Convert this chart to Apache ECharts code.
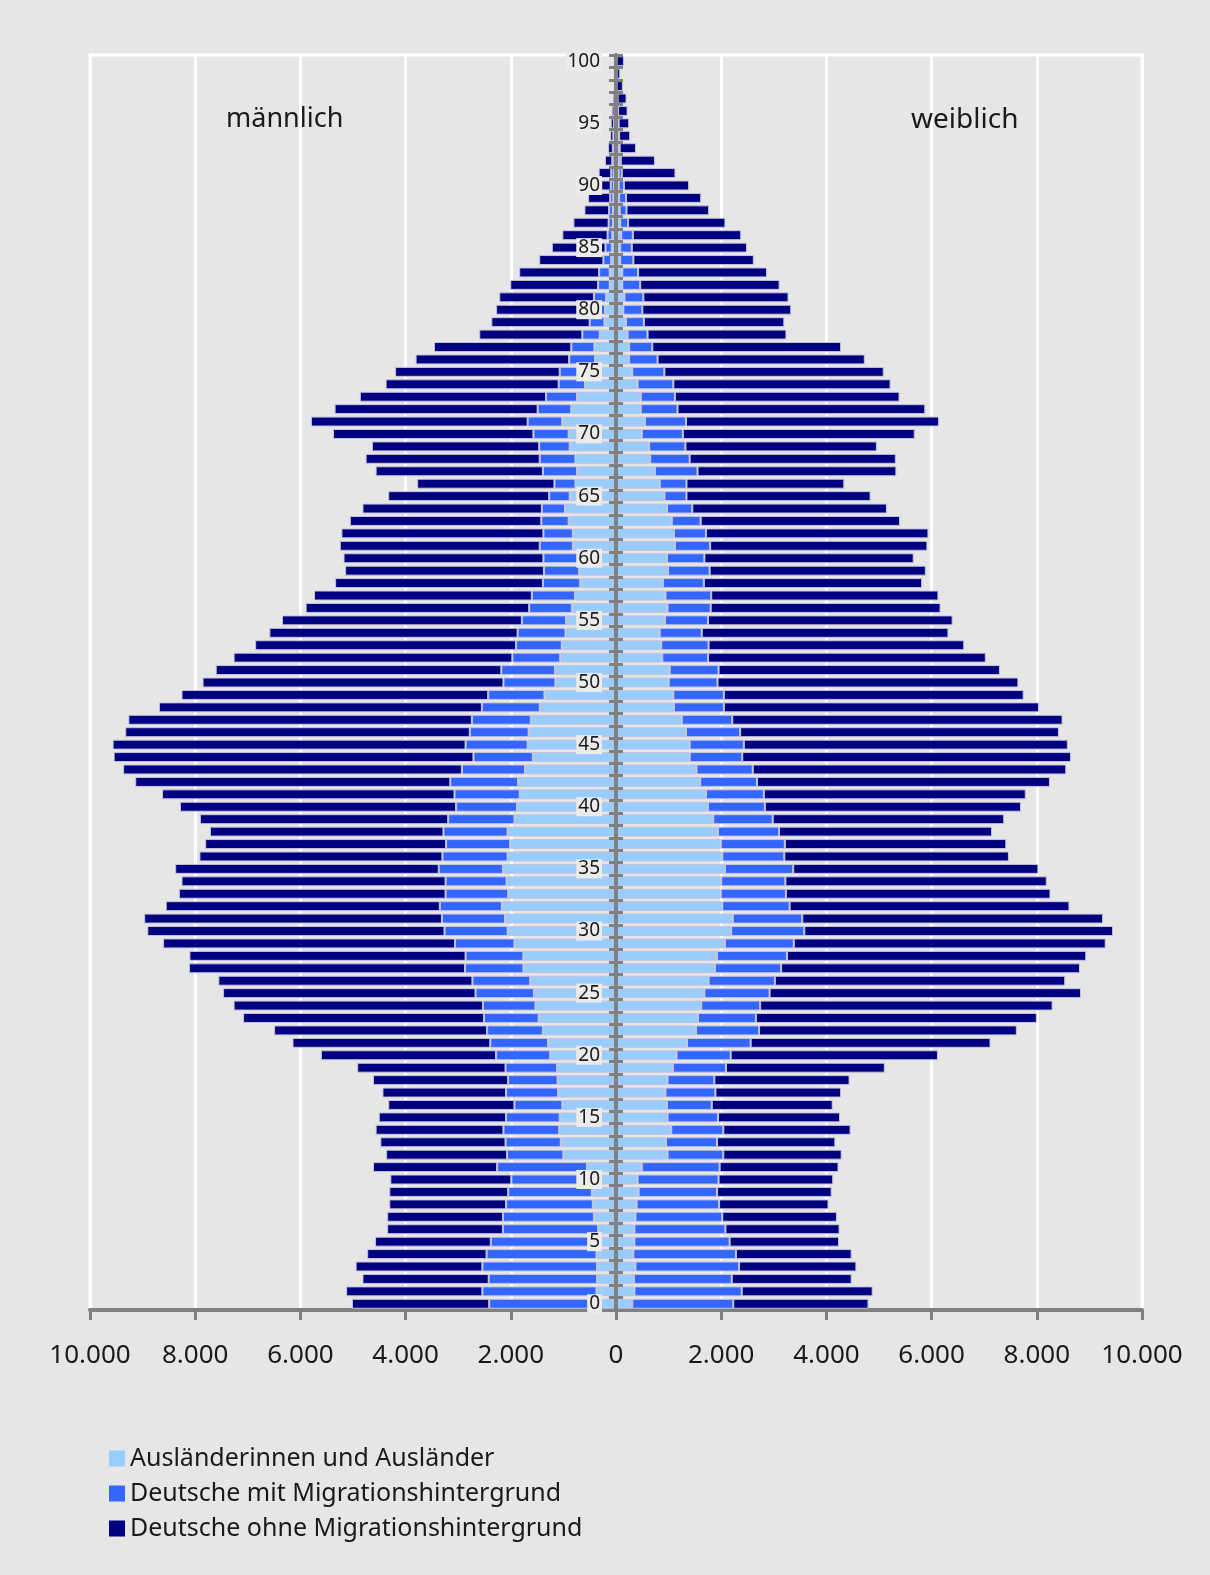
<!DOCTYPE html>
<html>
<head>
<meta charset="utf-8">
<script src="https://cdn.jsdelivr.net/npm/echarts@6/dist/echarts.min.js"></script>
<style>
  html, body { margin: 0; padding: 0; background: #e6e6e6; }
  #chart { width: 1210px; height: 1575px; }
</style>
</head>
<body>
<div id="chart"></div>
<script>
// Altersjahre 0..100
var ages = [];
for (var i = 0; i <= 100; i++) ages.push(String(i));

// männlich (Anzahl, positiv notiert)
var maleAusl = [370,370,360,360,370,380,340,420,440,460, 470,550,1000,1050,1080,1070,1020,1100,1110,1120,
  1250,1290,1390,1470,1530,1560,1630,1760,1760,1930, 2060,2110,2170,2050,2080,2150,2060,2010,2060,1930,
  1880,1830,1860,1730,1580,1680,1660,1620,1450,1360, 1150,1160,1060,1030,960,950,840,780,680,700,
  700,820,820,900,970,880,770,740,770,880, 900,1020,850,740,590,590,400,410,310,220,
  210,190,120,120,90,80,70,60,60,50, 40,40,30,20,20,10,10,10,0,0,0];
var maleMit = [2040,2170,2060,2180,2090,2000,1810,1730,1650,1590, 1520,1710,1070,1050,1060,1020,910,990,940,980,
  1030,1100,1060,1040,1000,1110,1100,1110,1100,1130, 1200,1200,1180,1190,1160,1220,1240,1220,1220,1260,
  1160,1240,1290,1200,1130,1180,1120,1120,1100,1070, 990,1020,910,870,910,840,810,820,710,670,
  680,630,560,520,440,390,400,650,680,580, 670,660,640,590,500,480,490,440,330,280,
  300,230,220,200,150,120,90,80,70,60, 60,50,40,40,30,30,20,10,10,0,0];
var maleOhne = [2610,2590,2400,2410,2270,2200,2200,2200,2220,2260, 2300,2360,2300,2380,2430,2420,2400,2350,2570,2820,
  3330,3760,4050,4580,4740,4800,4830,5250,5250,5550, 5650,5660,5210,5070,5020,5010,4620,4580,4440,4720,
  5250,5560,5990,6440,6840,6710,6550,6530,6140,5830, 5720,5430,5300,4960,4720,4560,4250,4140,3950,3780,
  3800,3800,3840,3640,3410,3060,2610,3180,3310,3180, 3810,4120,3860,3540,3290,3130,2920,2610,1960,1870,
  1770,1800,1670,1520,1220,1020,860,670,470,420, 180,240,140,90,60,60,50,40,10,10,20];

// weiblich
var femaleAusl = [310,350,340,370,330,350,350,370,390,430, 410,490,980,950,1050,980,970,940,980,1080,
  1150,1350,1520,1560,1620,1680,1760,1880,1920,2070, 2190,2220,2020,1990,2000,2070,2020,1990,1940,1850,
  1750,1710,1600,1530,1400,1400,1330,1250,1100,1090, 1000,1020,880,860,830,930,980,940,890,990,
  970,1120,1100,1060,970,920,830,740,650,630, 490,550,470,470,410,310,250,250,220,190,
  140,160,120,120,80,80,100,80,70,60, 50,50,50,40,30,20,20,10,0,0,0];
var femaleMit = [1920,2040,1860,1970,1950,1810,1730,1650,1570,1490, 1540,1480,1060,970,990,960,850,950,890,1010,
  1030,1210,1200,1100,1120,1240,1260,1260,1330,1310, 1390,1320,1280,1240,1220,1300,1180,1220,1160,1130,
  1080,1100,1080,1070,1000,1030,1030,960,950,960, 930,930,870,900,800,820,820,870,780,790,
  710,670,610,550,480,420,510,810,750,690, 780,780,700,650,680,610,540,440,380,340,
  360,360,340,300,250,220,220,150,130,130, 100,60,40,30,30,30,20,20,10,10,10];
var femaleOhne = [2570,2490,2280,2230,2200,2080,2170,2180,2080,2180, 2180,2260,2250,2250,2420,2320,2300,2390,2570,3020,
  3940,4560,4900,5340,5560,5920,5520,5680,5690,5930, 5870,5720,5320,5030,4970,4660,4270,4210,4050,4400,
  4870,4980,5570,5960,6250,6160,6060,6280,5990,5700, 5720,5350,5280,4860,4690,4650,4370,4320,4150,4110,
  3980,4130,4230,3790,3700,3500,3000,3780,3920,3640, 4410,4810,4710,4270,4130,4170,3940,3590,2640,2670,
  2830,2760,2650,2450,2290,2190,2060,1850,1570,1430, 1240,1020,650,310,210,200,180,170,120,70,140];

var names = ['Ausländerinnen und Ausländer', 'Deutsche mit Migrationshintergrund', 'Deutsche ohne Migrationshintergrund'];
var colors = ['#99ccff', '#3366ff', '#000080'];

function neg(arr) { return arr.map(function(v) { return -v; }); }
function fmt(v) {
  var a = Math.abs(v);
  if (a >= 1000) return Math.floor(a / 1000) + '.' + ('00' + (a % 1000)).slice(-3);
  return String(a);
}

function bar(name, data, color) {
  return {
    type: 'bar',
    name: name,
    stack: 'pyr',
    data: data,
    barCategoryGap: '20%',
    itemStyle: { color: color, borderColor: '#c4c4dc', borderWidth: 1 },
    silent: true
  };
}

var font = 'Noto Sans';
var chart = echarts.init(document.getElementById('chart'), null, { renderer: 'canvas' });

// grid: x 90..1142, Mitte bei 616
var half = 526;

chart.setOption({
  animation: false,
  backgroundColor: '#e6e6e6',
  textStyle: { fontFamily: font },
  grid: {
    left: 90, right: 68, top: 55, bottom: 265,
    show: true, backgroundColor: '#e6e6e6', borderColor: '#ffffff', borderWidth: 3
  },
  legend: {
    data: names,
    orient: 'vertical',
    left: 104, top: 1441,
    itemWidth: 16, itemHeight: 16, itemGap: 10,
    icon: 'rect',
    itemStyle: { borderWidth: 0 },
    textStyle: { fontSize: 25, lineHeight: 24, color: '#1a1a1a', fontFamily: font }
  },
  xAxis: {
    type: 'value',
    min: -10000, max: 10000, interval: 2000,
    axisLine: { show: true, onZero: false, lineStyle: { color: '#808080', width: 4 } },
    axisTick: { show: true, length: 10, lineStyle: { color: '#808080', width: 3 } },
    axisLabel: { formatter: fmt, fontSize: 26, color: '#1a1a1a', margin: 33, fontFamily: font },
    splitLine: { show: true, lineStyle: { color: '#ffffff', width: 3 } }
  },
  yAxis: [{
    type: 'category',
    data: ages,
    position: 'left',
    offset: -half,
    z: 10,
    axisLine: { show: true, onZero: false, lineStyle: { color: '#808080', width: 4 } },
    axisTick: { show: true, interval: 0, length: 7, lineStyle: { color: '#808080', width: 3 } },
    axisLabel: {
      interval: 4, fontSize: 19, color: '#1a1a1a', margin: 14, fontFamily: font,
      backgroundColor: '#ebebeb', padding: [0, 2]
    },
    splitLine: { show: false }
  }, {
    type: 'category',
    data: ages,
    position: 'right',
    offset: -half,
    z: 10,
    axisLine: { show: true, onZero: false, lineStyle: { color: '#808080', width: 4 } },
    axisTick: { show: true, interval: 0, length: 7, lineStyle: { color: '#808080', width: 3 } },
    axisLabel: { show: false },
    splitLine: { show: false }
  }],
  graphic: [
    { type: 'text', left: 226, top: 106, z: 100, style: { text: 'männlich', fontSize: 27, fill: '#1a1a1a', fontFamily: font } },
    { type: 'text', left: 911, top: 106, z: 100, style: { text: 'weiblich', fontSize: 28, fill: '#1a1a1a', fontFamily: font } }
  ],
  series: [
    bar(names[0], neg(maleAusl), colors[0]),
    bar(names[1], neg(maleMit), colors[1]),
    bar(names[2], neg(maleOhne), colors[2]),
    bar(names[0], femaleAusl, colors[0]),
    bar(names[1], femaleMit, colors[1]),
    bar(names[2], femaleOhne, colors[2])
  ]
});

window.addEventListener('resize', function() { chart.resize(); });
</script>
</body>
</html>
